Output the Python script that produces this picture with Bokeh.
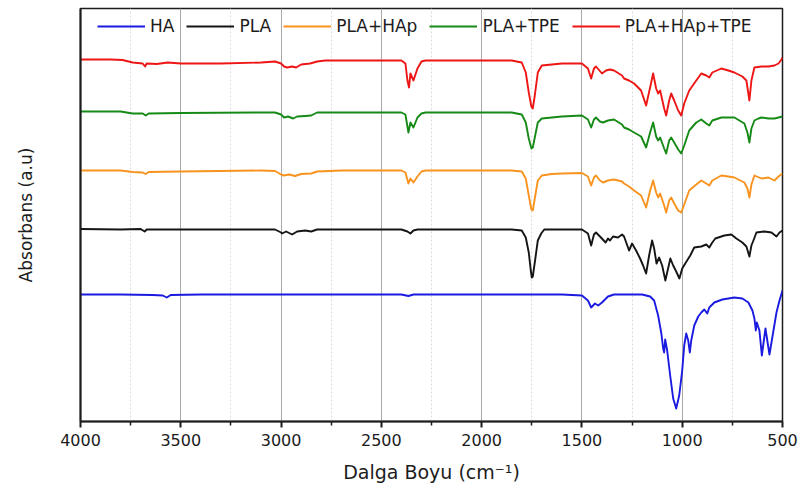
from bokeh.plotting import figure
from bokeh.models import Range1d, FixedTicker, Legend, LegendItem
from bokeh.embed import file_html
from bokeh.resources import INLINE

# FTIR spectra, stacked with vertical offsets (absorbance, arbitrary units)
HA_wn = [4000, 3800, 3640, 3590, 3570, 3550, 3400, 3000, 2400, 2365, 2340, 2000,
         1600, 1500, 1470, 1454, 1435, 1419, 1400, 1370, 1340, 1200, 1160, 1140,
         1120, 1104, 1095, 1090, 1085, 1075, 1060, 1045, 1030, 1015, 1000, 990,
         980, 970, 962, 955, 940, 920, 905, 890, 875, 865, 840, 800,
         740, 700, 670, 650, 640, 633, 628, 615, 603, 585, 565, 545,
         530, 515, 500]
HA_ab = [1.27, 1.27, 1.265, 1.26, 1.24, 1.265, 1.27, 1.27, 1.27, 1.255, 1.27, 1.27,
         1.27, 1.26, 1.21, 1.14, 1.18, 1.16, 1.19, 1.25, 1.27, 1.27, 1.25, 1.21,
         1.06, 0.88, 0.73, 0.69, 0.82, 0.71, 0.46, 0.23, 0.13, 0.26, 0.51, 0.76,
         0.88, 0.81, 0.69, 0.81, 0.96, 1.05, 1.09, 1.12, 1.08, 1.14, 1.19, 1.22,
         1.24, 1.23, 1.19, 1.11, 1.03, 0.91, 0.99, 0.91, 0.66, 0.93, 0.67, 0.91,
         1.09, 1.21, 1.31]

PLA_wn = [4000, 3800, 3700, 3680, 3670, 3200, 3030, 3000, 2995, 2975, 2945, 2920,
          2880, 2850, 2820, 2400, 2370, 2355, 2340, 2320, 1850, 1800, 1780, 1765,
          1755, 1750, 1745, 1735, 1720, 1703, 1688, 1500, 1470, 1454, 1440, 1430,
          1410, 1382, 1370, 1360, 1345, 1320, 1300, 1290, 1265, 1250, 1230, 1210,
          1195, 1180, 1165, 1150, 1140, 1128, 1115, 1100, 1084, 1075, 1059, 1045,
          1030, 1014, 1000, 985, 960, 940, 905, 880, 865, 850, 835, 790,
          755, 730, 700, 680, 665, 655, 645, 630, 590, 555, 530, 515,
          500]
PLA_ab = [1.925, 1.92, 1.925, 1.90, 1.92, 1.92, 1.92, 1.89, 1.88, 1.90, 1.87, 1.90,
          1.91, 1.90, 1.92, 1.92, 1.90, 1.88, 1.91, 1.92, 1.92, 1.91, 1.84, 1.69,
          1.51, 1.44, 1.45, 1.59, 1.81, 1.88, 1.92, 1.92, 1.88, 1.76, 1.87, 1.89,
          1.85, 1.79, 1.83, 1.81, 1.85, 1.84, 1.87, 1.85, 1.71, 1.78, 1.71, 1.63,
          1.56, 1.48, 1.66, 1.81, 1.73, 1.58, 1.64, 1.56, 1.41, 1.49, 1.63, 1.56,
          1.50, 1.43, 1.53, 1.58, 1.66, 1.74, 1.75, 1.77, 1.74, 1.79, 1.83, 1.86,
          1.87, 1.83, 1.79, 1.75, 1.65, 1.76, 1.81, 1.89, 1.90, 1.89, 1.85, 1.89,
          1.91]

PLA_HAP_wn = [4000, 3800, 3740, 3690, 3675, 3660, 3500, 3100, 3030, 3000, 2985, 2960,
              2930, 2900, 2850, 2820, 2700, 2400, 2380, 2365, 2355, 2340, 2320, 2300,
              2280, 1850, 1800, 1780, 1765, 1752, 1745, 1735, 1720, 1700, 1650, 1600,
              1500, 1470, 1454, 1440, 1430, 1410, 1395, 1370, 1340, 1300, 1290, 1265,
              1240, 1205, 1180, 1160, 1145, 1130, 1120, 1110, 1090, 1080, 1065, 1055,
              1040, 1020, 1005, 990, 965, 930, 905, 880, 865, 850, 805, 770,
              740, 690, 675, 665, 655, 640, 605, 570, 540, 520, 500]
PLA_HAP_ab = [2.51, 2.51, 2.495, 2.49, 2.475, 2.495, 2.50, 2.51, 2.505, 2.47, 2.46, 2.47,
              2.455, 2.475, 2.48, 2.50, 2.51, 2.51, 2.49, 2.38, 2.43, 2.39, 2.45, 2.50,
              2.51, 2.51, 2.50, 2.43, 2.26, 2.12, 2.11, 2.23, 2.41, 2.46, 2.475, 2.48,
              2.485, 2.45, 2.36, 2.44, 2.46, 2.41, 2.39, 2.41, 2.42, 2.40, 2.38, 2.35,
              2.31, 2.26, 2.14, 2.31, 2.41, 2.29, 2.24, 2.28, 2.16, 2.09, 2.21, 2.24,
              2.18, 2.11, 2.09, 2.17, 2.31, 2.37, 2.41, 2.38, 2.36, 2.41, 2.46, 2.45,
              2.44, 2.39, 2.33, 2.24, 2.37, 2.46, 2.43, 2.44, 2.41, 2.45, 2.48]

PLA_TPE_wn = [4000, 3800, 3740, 3690, 3675, 3660, 3500, 3100, 3030, 3000, 2985, 2965,
              2940, 2920, 2880, 2850, 2820, 2400, 2380, 2365, 2355, 2340, 2320, 2300,
              2280, 1850, 1800, 1780, 1765, 1752, 1745, 1735, 1720, 1700, 1650, 1600,
              1500, 1470, 1454, 1440, 1430, 1410, 1395, 1370, 1340, 1300, 1290, 1265,
              1240, 1205, 1180, 1160, 1145, 1130, 1120, 1110, 1090, 1080, 1065, 1055,
              1040, 1020, 1005, 990, 965, 930, 905, 880, 865, 850, 805, 740,
              690, 675, 665, 655, 640, 620, 605, 570, 540, 520, 500]
PLA_TPE_ab = [3.10, 3.10, 3.08, 3.08, 3.06, 3.08, 3.085, 3.09, 3.09, 3.07, 3.04, 3.05,
              3.03, 3.05, 3.055, 3.06, 3.09, 3.09, 3.07, 2.89, 2.99, 2.94, 3.04, 3.08,
              3.09, 3.09, 3.07, 2.99, 2.83, 2.73, 2.74, 2.84, 2.99, 3.03, 3.04, 3.05,
              3.06, 3.02, 2.94, 3.02, 3.04, 3.00, 2.99, 3.01, 3.02, 2.97, 2.94, 2.92,
              2.89, 2.85, 2.74, 2.89, 2.99, 2.85, 2.81, 2.84, 2.73, 2.68, 2.81, 2.84,
              2.79, 2.72, 2.68, 2.76, 2.91, 2.99, 3.02, 2.98, 2.96, 3.01, 3.04, 3.04,
              2.98, 2.89, 2.79, 2.93, 3.01, 3.03, 3.04, 3.03, 3.03, 3.04, 3.05]

PLA_HAP_TPE_wn = [4000, 3850, 3790, 3740, 3690, 3678, 3670, 3620, 3565, 3500, 3300, 3100,
                  3030, 3000, 2985, 2970, 2945, 2925, 2900, 2855, 2820, 2780, 2400, 2380,
                  2370, 2362, 2355, 2340, 2320, 2300, 2280, 1850, 1800, 1780, 1765, 1752,
                  1745, 1735, 1720, 1700, 1650, 1600, 1500, 1470, 1454, 1440, 1430, 1400,
                  1380, 1360, 1340, 1300, 1290, 1265, 1240, 1205, 1180, 1160, 1145, 1130,
                  1120, 1110, 1090, 1080, 1065, 1055, 1040, 1020, 1005, 990, 965, 930,
                  905, 880, 865, 850, 805, 770, 740, 700, 680, 665, 655, 640,
                  605, 570, 540, 520, 505, 500]
PLA_HAP_TPE_ab = [3.62, 3.62, 3.615, 3.59, 3.58, 3.55, 3.58, 3.575, 3.59, 3.58, 3.58, 3.59,
                  3.60, 3.58, 3.55, 3.54, 3.55, 3.54, 3.57, 3.58, 3.60, 3.61, 3.61, 3.58,
                  3.41, 3.34, 3.48, 3.41, 3.53, 3.60, 3.61, 3.61, 3.59, 3.49, 3.29, 3.15,
                  3.13, 3.26, 3.49, 3.56, 3.57, 3.58, 3.58, 3.53, 3.43, 3.53, 3.55, 3.48,
                  3.51, 3.52, 3.51, 3.46, 3.43, 3.41, 3.38, 3.31, 3.16, 3.34, 3.48, 3.33,
                  3.28, 3.31, 3.13, 3.06, 3.21, 3.28, 3.21, 3.11, 3.06, 3.18, 3.31, 3.41,
                  3.48, 3.46, 3.44, 3.49, 3.53, 3.51, 3.49, 3.45, 3.41, 3.21, 3.41, 3.54,
                  3.55, 3.55, 3.56, 3.58, 3.62, 3.64]

SERIES = [
    ("HA", HA_wn, HA_ab, "#1a1ae0"),
    ("PLA", PLA_wn, PLA_ab, "#151515"),
    ("PLA+HAp", PLA_HAP_wn, PLA_HAP_ab, "#f7931e"),
    ("PLA+TPE", PLA_TPE_wn, PLA_TPE_ab, "#168a16"),
    ("PLA+HAp+TPE", PLA_HAP_TPE_wn, PLA_HAP_TPE_ab, "#ee1515"),
]

MAJOR_TICKS = [4000, 3500, 3000, 2500, 2000, 1500, 1000, 500]
MINOR_TICKS = [3750, 3250, 2750, 2250, 1750, 1250, 750]

FONT = "DejaVu Sans"
INK = "#1c1c1c"

p = figure(width=803, height=490, output_backend="svg", toolbar_location=None,
           x_range=Range1d(4000, 500), y_range=Range1d(0, 4.13),
           min_border_left=80, min_border_right=21, min_border_top=8,
           min_border_bottom=69, background_fill_color="white",
           border_fill_color="white")

items = []
for name, wn, ab, color in SERIES:
    r = p.line(wn, ab, line_color=color, line_width=1.9, line_join="round")
    items.append(LegendItem(label=name, renderers=[r]))

# x axis: reversed wavenumber scale with outward ticks
ticker = FixedTicker(ticks=MAJOR_TICKS, minor_ticks=MINOR_TICKS)
xa = p.xaxis[0]
xa.ticker = ticker
xa.axis_label = "Dalga Boyu (cm⁻¹)"
xa.axis_label_text_font = FONT
xa.axis_label_text_font_size = "19px"
xa.axis_label_text_font_style = "normal"
xa.axis_label_text_color = INK
xa.axis_label_standoff = 12
xa.major_label_text_font = FONT
xa.major_label_text_font_size = "16px"
xa.major_label_text_color = INK
xa.major_label_standoff = 6
xa.axis_line_width = 2
xa.axis_line_color = INK
xa.major_tick_in = 0
xa.major_tick_out = 6
xa.major_tick_line_width = 2
xa.major_tick_line_color = INK
xa.minor_tick_in = 0
xa.minor_tick_out = 4
xa.minor_tick_line_width = 1.5
xa.minor_tick_line_color = INK

# y axis: label only, no tick values
ya = p.yaxis[0]
ya.ticker = FixedTicker(ticks=[])
ya.axis_label = "Absorbans (a.u)"
ya.axis_label_text_font = FONT
ya.axis_label_text_font_size = "17px"
ya.axis_label_text_font_style = "normal"
ya.axis_label_text_color = INK
ya.axis_label_standoff = 45
ya.axis_line_width = 2
ya.axis_line_color = INK
ya.major_tick_out = 0
ya.major_tick_in = 0
ya.minor_tick_out = 0
ya.minor_tick_in = 0

p.xgrid.ticker = ticker
p.xgrid.grid_line_color = "#a8a8a8"
p.xgrid.grid_line_width = 1
p.xgrid.minor_grid_line_color = "#dcdcdc"
p.xgrid.minor_grid_line_dash = "2 2"
p.ygrid.grid_line_color = None

p.outline_line_color = INK
p.outline_line_width = 1.5

legend = Legend(items=items, orientation="horizontal", location=(17, 385),
                glyph_width=48, glyph_height=20, label_standoff=5, spacing=12,
                padding=4, margin=0, label_text_font=FONT,
                label_text_font_size="17px", label_text_color=INK,
                border_line_color=None, background_fill_alpha=0)
p.add_layout(legend)

open("out.html", "w").write(file_html(p, INLINE))
